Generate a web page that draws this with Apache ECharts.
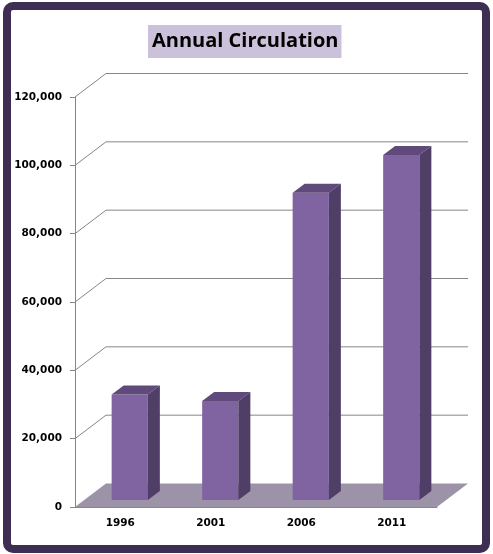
<!DOCTYPE html>
<html>
<head>
<meta charset="utf-8">
<script src="https://cdn.jsdelivr.net/npm/echarts@6/dist/echarts.min.js"></script>
<style>
  html, body { margin: 0; padding: 0; background: #fff; }
  #chart { width: 493px; height: 554px; }
</style>
</head>
<body>
<div id="chart"></div>
<script>
let years = ['1996', '2001', '2006', '2011']
let circulation = [30900, 29000, 89900, 101000]
let yTicks = [0, 20000, 40000, 60000, 80000, 100000, 120000]

// 3d look: back wall offset and bar position inside the depth
const DEPTH_X = 31, DEPTH_Y = -23.5
const BAR_OX = 9.5, BAR_OY = -7
const BAR_DX = 12, BAR_DY = -9

let chart = echarts.init(document.getElementById('chart'))

function renderWall(params, api) {
  let cs = params.coordSys
  let v = api.value(0)
  let y = api.coord([0, v])[1]
  let x0 = cs.x, x1 = cs.x + cs.width
  let children = []
  if (v === 0) {
    // floor
    children.push({
      type: 'polygon',
      shape: { points: [[x0, y], [x1, y], [x1 + DEPTH_X, y + DEPTH_Y], [x0 + DEPTH_X, y + DEPTH_Y]] },
      style: { fill: '#9d93a9' }
    })
  } else {
    children.push({
      type: 'polyline',
      shape: { points: [[x0, y], [x0 + DEPTH_X, y + DEPTH_Y], [x1 + DEPTH_X, y + DEPTH_Y]] },
      style: { stroke: '#868686', lineWidth: 1, fill: null }
    })
  }
  return { type: 'group', children: children }
}

function renderBar(params, api) {
  let i = api.value(0)
  let top = api.coord([i, api.value(1)])
  let base = api.coord([i, 0])
  let w = api.size([1, 0])[0] * 0.4
  let L = top[0] - w / 2 + BAR_OX, R = top[0] + w / 2 + BAR_OX
  let T = top[1] + BAR_OY, B = base[1] + BAR_OY
  return {
    type: 'group',
    children: [
      { type: 'rect', shape: { x: L, y: T, width: R - L, height: B - T }, style: { fill: '#8064a2' } },
      { type: 'polygon', shape: { points: [[L, T], [R, T], [R + BAR_DX, T + BAR_DY], [L + BAR_DX, T + BAR_DY]] }, style: { fill: '#604a7b' } },
      { type: 'polygon', shape: { points: [[R, T], [R + BAR_DX, T + BAR_DY], [R + BAR_DX, B + BAR_DY], [R, B]] }, style: { fill: '#4f3e66' } }
    ]
  }
}

let option = {
  animation: false,
  backgroundColor: '#ffffff',
  title: {
    text: 'Annual Circulation',
    left: 148,
    top: 25,
    padding: [6, 3, 7, 4],
    backgroundColor: '#ccc1da',
    textStyle: { fontFamily: 'Open Sans', fontWeight: 'bold', fontSize: 20, color: '#000' }
  },
  graphic: [{
    type: 'rect',
    shape: { x: 7, y: 6, width: 479, height: 543, r: 6 },
    style: { fill: null, stroke: '#3f2e53', lineWidth: 8 },
    z: 100
  }],
  grid: { left: 75, right: 56, top: 97, bottom: 47 },
  xAxis: {
    type: 'category',
    data: years,
    axisLine: { lineStyle: { color: '#868686' } },
    axisTick: { length: 5, lineStyle: { color: '#868686' } },
    axisLabel: { color: '#000', fontFamily: 'DejaVu Sans', fontWeight: 'bold', fontSize: 10.5, margin: 11 }
  },
  yAxis: {
    type: 'value',
    min: 0,
    max: 120000,
    interval: 20000,
    axisLine: { show: true, lineStyle: { color: '#868686' } },
    axisTick: { show: true, length: 5, lineStyle: { color: '#868686' } },
    splitLine: { show: false },
    axisLabel: {
      color: '#000', fontFamily: 'DejaVu Sans', fontWeight: 'bold', fontSize: 10.5, margin: 13,
      formatter: v => v.toLocaleString('en-US')
    }
  },
  series: [
    {
      type: 'custom',
      renderItem: renderWall,
      data: yTicks.map(v => [v]),
      encode: { y: 0 },
      z: 1,
      silent: true
    },
    {
      type: 'custom',
      renderItem: renderBar,
      data: circulation.map((v, i) => [i, v]),
      encode: { x: 0, y: 1 },
      z: 3
    }
  ]
}
chart.setOption(option)
</script>
</body>
</html>
